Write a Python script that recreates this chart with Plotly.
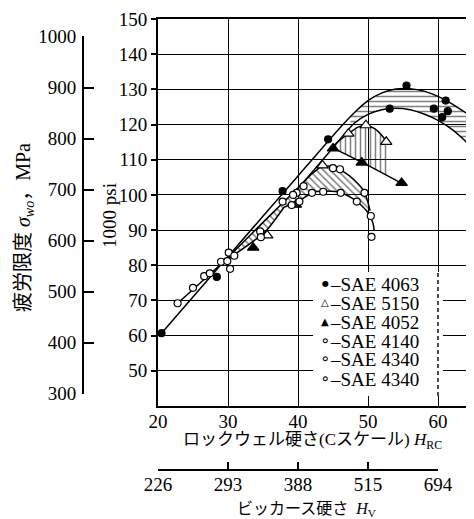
import plotly.graph_objects as go

# ---------------- data ----------------
hrc_ticks = [20, 30, 40, 50, 60]
vickers_labels = ["226", "293", "388", "515", "694"]
psi_ticks = [50, 60, 70, 80, 90, 100, 110, 120, 130, 140, 150]
mpa_ticks = [300, 400, 500, 600, 700, 800, 900, 1000]

# envelope lines
line_a_x = [20.5, 30.0, 40.0, 46.0, 48.0, 50.0, 52.0, 54.0, 56.0, 58.0, 60.0, 62.0, 64.3]
line_a_y = [60.7, 82.5, 105.4, 119.1, 123.3, 126.8, 129.0, 130.1, 130.2, 129.5, 128.0, 125.9, 122.9]
line_b_x = [22.8, 29.5, 35.0, 40.5, 44.6, 48.0, 50.0, 52.0, 54.0, 56.0, 58.0, 60.0, 62.0, 64.6, 65.2]
line_b_y = [69.2, 81.3, 92.2, 103.0, 112.5, 120.3, 122.9, 124.2, 124.6, 124.2, 123.0, 121.2, 118.6, 114.0, 112.8]

# SAE 4063 band (horizontal hatch)
b4063_up_x = [47.5, 48.0, 50.0, 52.0, 54.0, 56.0, 58.0, 60.0, 62.0, 64.3]
b4063_up_y = [122.3, 123.3, 126.8, 129.0, 130.1, 130.2, 129.5, 128.0, 125.9, 122.9]
b4063_lo_x = [47.5, 48.0, 50.0, 52.0, 54.0, 56.0, 58.0, 60.0, 62.0, 64.3]
b4063_lo_y = [119.2, 120.3, 122.9, 124.2, 124.6, 124.2, 123.0, 121.2, 118.6, 114.5]

# SAE 5150 / 4052 band (vertical hatch)
b5150_up_x = [44.8, 46.0, 47.2, 48.5, 49.7, 51.0, 52.2, 52.8]
b5150_up_y = [113.5, 115.6, 117.4, 119.2, 119.8, 118.8, 116.4, 114.5]
b5150_lo_x = [44.8, 47.0, 49.1, 51.0, 52.8]
b5150_lo_y = [113.5, 111.3, 109.3, 107.4, 105.3]
l4052_x = [44.8, 49.1, 54.8]
l4052_y = [113.5, 109.3, 103.3]

# SAE 4140 / 4340 band (diagonal hatch)
b4140_up_x = [30.0, 35.0, 40.5, 42.0, 43.5, 45.0, 46.5, 48.0, 49.5, 50.3]
b4140_up_y = [82.0, 92.2, 103.0, 106.0, 108.2, 108.0, 106.6, 104.3, 100.8, 95.5]
b4140_lo_x = [30.0, 35.3, 38.0, 39.1, 40.2, 42.0, 43.6, 46.1, 48.4, 50.0, 50.3]
b4140_lo_y = [81.8, 89.5, 96.5, 97.4, 98.3, 100.6, 101.1, 100.7, 98.2, 95.0, 95.5]
l4340_x = [38.0, 39.1, 40.2, 42.0, 43.6, 46.1, 48.4, 50.0, 50.7, 50.9]
l4340_y = [96.5, 97.4, 98.3, 100.6, 101.1, 100.7, 98.2, 95.0, 92.0, 89.8]

# measured points
s4063_x = [20.5, 28.4, 37.8, 44.3, 53.1, 55.5, 59.4, 60.6, 61.1, 61.4]
s4063_y = [60.7, 76.7, 101.1, 115.8, 124.5, 131.1, 124.5, 122.1, 126.8, 123.8]
s5150_x = [35.6, 43.5, 47.2, 49.7, 52.6]
s5150_y = [88.5, 108.4, 117.4, 119.8, 115.1]
s4052_x = [33.6, 39.7, 45.0, 49.1, 54.8]
s4052_y = [85.0, 97.2, 113.2, 109.2, 103.4]
s4140_x = [22.8, 25.0, 26.6, 27.4, 29.0, 29.9, 30.3, 30.1, 30.9, 34.6, 34.7, 39.8]
s4140_y = [69.2, 73.6, 76.9, 77.7, 81.0, 81.2, 79.0, 83.6, 82.7, 89.6, 88.0, 100.6]
s4340a_x = [39.3, 40.8, 45.0, 46.0, 49.5]
s4340a_y = [100.0, 102.5, 107.6, 107.3, 100.6]
s4340b_x = [37.8, 39.1, 40.2, 42.0, 43.6, 46.1, 48.4, 50.4, 50.5]
s4340b_y = [98.1, 97.1, 98.1, 100.6, 100.9, 100.6, 98.1, 94.0, 88.1]

legend_glyphs = ["●", "△", "▲", "∘", "∘", "∘"]
legend_labels = ["–SAE 4063", "–SAE 5150", "–SAE 4052", "–SAE 4140", "–SAE 4340", "–SAE 4340"]

# ---------------- geometry (screen pixels; page body has an 8px margin) ----------------
OFF = 8
SCR_W, SCR_H = 474, 519
W, H = SCR_W - OFF, SCR_H - OFF
MT, MB = 19 - OFF, 0
PH = H - MT - MB


def fx(px):
    return (px - OFF) / W


def fy(py):
    return (H - MB - (py - OFF)) / PH


X0_PX, X1_PX, PX_PER_HRC = 158, 474, 7.0
XMIN = 20
XMAX = XMIN + (X1_PX - X0_PX) / PX_PER_HRC
YT_PX, YB_PX = 19, 406
YMIN, YMAX = 40, 150
MPA_PER_KSI = 6.895


def ksi_py(v):
    return YB_PX - (v - YMIN) * (YB_PX - YT_PX) / (YMAX - YMIN)


SERIF = "Liberation Serif, Noto Sans CJK JP"
JP = "Liberation Serif, Noto Sans CJK JP"

fig = go.Figure()


def band(ux, uy, lx, ly, shape, size):
    fig.add_trace(go.Scatter(
        x=ux + lx[::-1], y=uy + ly[::-1], mode="lines", fill="toself",
        fillcolor="rgba(0,0,0,0)",
        fillpattern=dict(shape=shape, fgcolor="black", bgcolor="rgba(0,0,0,0)",
                         size=size, solidity=0.3),
        line=dict(width=0), hoverinfo="skip", showlegend=False))


band(b4063_up_x, b4063_up_y, b4063_lo_x, b4063_lo_y, "-", 5)
band(b5150_up_x, b5150_up_y, b5150_lo_x, b5150_lo_y, "|", 5)
band(b4140_up_x, b4140_up_y, b4140_lo_x, b4140_lo_y, "\\", 5)


def curve(x, y, w=1.5):
    fig.add_trace(go.Scatter(x=x, y=y, mode="lines",
                             line=dict(color="black", width=w, shape="spline", smoothing=0.6),
                             hoverinfo="skip", showlegend=False))


curve(line_a_x, line_a_y)
curve(line_b_x, line_b_y)
curve(b5150_up_x, b5150_up_y)
curve(l4052_x, l4052_y)
curve(b4140_up_x[2:], b4140_up_y[2:])
curve(l4340_x, l4340_y)
curve(b4140_lo_x[:3], b4140_lo_y[:3])


def pts(x, y, symbol, size, fill):
    fig.add_trace(go.Scatter(x=x, y=y, mode="markers",
                             marker=dict(symbol=symbol, size=size, color=fill,
                                         line=dict(color="black", width=1.2)),
                             hoverinfo="skip", showlegend=False))


pts(s4063_x, s4063_y, "circle", 7, "black")
pts(s5150_x, s5150_y, "triangle-up", 10, "white")
pts(s4052_x, s4052_y, "triangle-up", 10, "black")
pts(s4140_x, s4140_y, "circle", 7, "white")
pts(s4340a_x, s4340a_y, "circle", 7, "white")
pts(s4340b_x, s4340b_y, "circle", 7, "white")

# dummy trace so the secondary (Vickers / MPa) axes are drawn
fig.add_trace(go.Scatter(x=[], y=[], xaxis="x2", yaxis="y2", showlegend=False))

# legend panel (white box hiding the grid, dashed grid line through it)
box_x0 = XMIN + (313 - X0_PX) / PX_PER_HRC
box_x1 = XMIN + (443 - X0_PX) / PX_PER_HRC
box_y0 = YMIN + (YB_PX - 396) * (YMAX - YMIN) / (YB_PX - YT_PX)
box_y1 = YMIN + (YB_PX - 272) * (YMAX - YMIN) / (YB_PX - YT_PX)
shapes = [
    dict(type="rect", xref="x", yref="y", x0=box_x0, x1=box_x1, y0=box_y0, y1=box_y1,
         fillcolor="white", line=dict(width=0), layer="between"),
    dict(type="line", xref="x", yref="y", x0=60, x1=60, y0=box_y0, y1=box_y1,
         line=dict(color="black", width=1.4, dash="4px,3px"), layer="between"),
]

annotations = []
for i, (g, lab) in enumerate(zip(legend_glyphs, legend_labels)):
    py = 283 + 19 * i
    gsize = {"●": 8, "△": 10, "▲": 10, "∘": 16}[g]
    annotations.append(dict(xref="paper", yref="paper", x=fx(325), y=fy(py), text=g,
                            showarrow=False, xanchor="center", yanchor="middle",
                            font=dict(family="DejaVu Sans", size=gsize, color="black")))
    annotations.append(dict(xref="paper", yref="paper", x=fx(328), y=fy(py + 1), text=lab,
                            showarrow=False, xanchor="left", yanchor="middle",
                            font=dict(family=SERIF, size=19, color="black")))

annotations += [
    dict(xref="paper", yref="paper", x=fx(109), y=fy(216), text="1000 psi", textangle=-90,
         showarrow=False, xanchor="center", yanchor="middle",
         font=dict(family=SERIF, size=19, color="black")),
    dict(xref="paper", yref="paper", x=fx(24), y=fy(228),
         text="疲労限度 <i>σ</i><sub><i>wo</i></sub>，MPa", textangle=-90,
         showarrow=False, xanchor="center", yanchor="middle",
         font=dict(family=JP, size=20, color="black")),
    dict(xref="paper", yref="paper", x=fx(312), y=fy(441),
         text="ロックウェル硬さ(Cスケール) <i>H</i><sub>RC</sub>",
         showarrow=False, xanchor="center", yanchor="middle",
         font=dict(family=JP, size=17, color="black")),
    dict(xref="paper", yref="paper", x=fx(306), y=fy(509),
         text="ビッカース硬さ  <i>H</i><sub>V</sub>",
         showarrow=False, xanchor="center", yanchor="middle",
         font=dict(family=JP, size=16, color="black")),
]

tickfont = dict(family=SERIF, size=19, color="black")

fig.update_layout(
    width=W, height=H,
    margin=dict(l=0, r=0, t=MT, b=MB, pad=0),
    paper_bgcolor="white", plot_bgcolor="rgba(0,0,0,0)",
    showlegend=False,
    xaxis=dict(domain=[fx(X0_PX), 1], range=[XMIN, XMAX], tickvals=hrc_ticks,
               showgrid=True, gridcolor="black", gridwidth=1.4,
               showline=True, linecolor="black", linewidth=2, mirror=True,
               ticks="", ticklen=0, ticklabelstandoff=-3,
               zeroline=False, tickfont=tickfont, automargin=False),
    yaxis=dict(domain=[fy(YB_PX), fy(YT_PX)], range=[YMIN, YMAX], tickvals=psi_ticks,
               showgrid=True, gridcolor="black", gridwidth=1.4,
               showline=True, linecolor="black", linewidth=2,
               ticks="outside", ticklen=5, tickwidth=1.5, tickcolor="black",
               zeroline=False, tickfont=tickfont, automargin=False),
    yaxis2=dict(domain=[fy(ksi_py(300 / MPA_PER_KSI)), fy(ksi_py(1000 / MPA_PER_KSI))],
                range=[300, 1000], tickvals=mpa_ticks, anchor="free", position=fx(83),
                side="left", showline=True, linecolor="black", linewidth=2,
                ticks="inside", ticklen=10, tickwidth=2, tickcolor="black",
                ticklabelstandoff=2,
                showgrid=False, zeroline=False, tickfont=tickfont, automargin=False),
    xaxis2=dict(domain=[fx(X0_PX), fx(438)], range=[20, 60], tickvals=hrc_ticks,
                ticktext=vickers_labels, anchor="free", position=fy(470), side="bottom",
                showline=True, linecolor="black", linewidth=2,
                ticks="inside", ticklen=7, tickwidth=2, tickcolor="black",
                ticklabelstandoff=-3,
                showgrid=False, zeroline=False, tickfont=tickfont, automargin=False),
    shapes=shapes,
    annotations=annotations,
)

fig.write_html("out.html")
